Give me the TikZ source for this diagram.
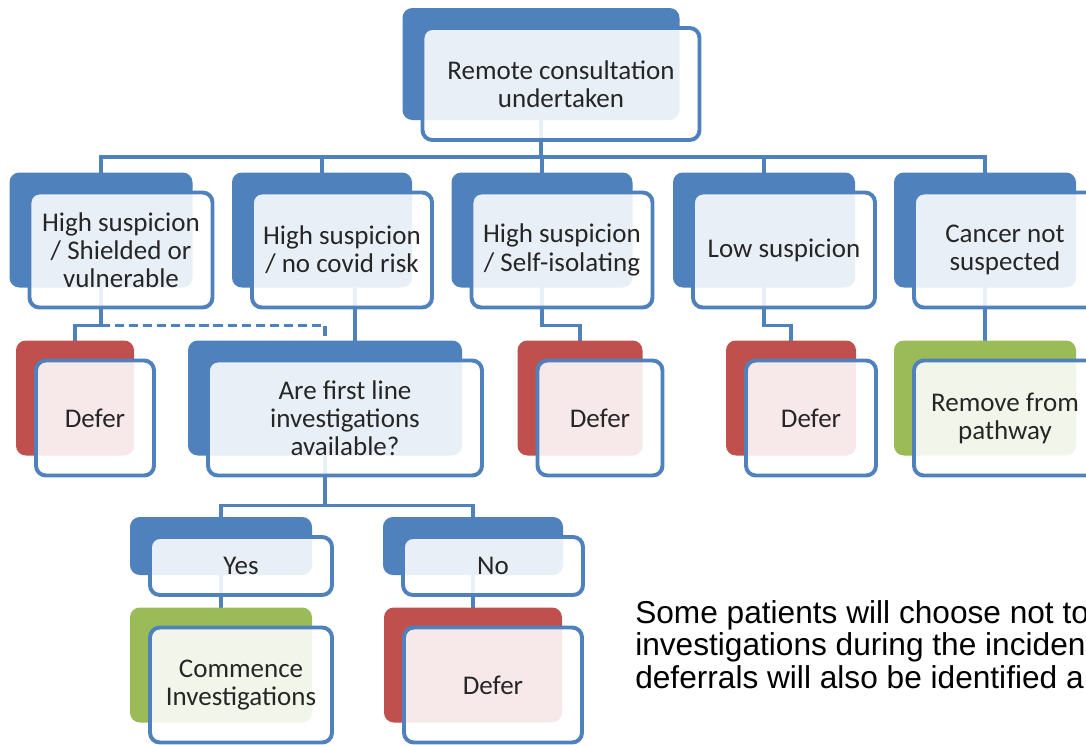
\documentclass[tikz,border=0pt]{standalone}
\usepackage{fontspec}
\usetikzlibrary{backgrounds}
\newfontfamily\boxfont{Carlito}
\newfontfamily\notefont{Liberation Sans}
\definecolor{ppblue}{RGB}{79,129,189}
\definecolor{ppred}{RGB}{192,80,77}
\definecolor{ppgreen}{RGB}{155,187,89}
\begin{document}
\begin{tikzpicture}[x=0.025cm, y=-0.025cm,
  card/.style={draw=ppblue,line width=2.8pt,rounded corners=7pt,fill=white,fill opacity=0.88,
    text opacity=1,text=black!85,align=center,inner sep=2pt,minimum height=115*0.025cm,
    font=\boxfont\fontsize{19.2}{20}\selectfont},
  back/.style={preaction={fill=#1,draw=none,fill opacity=1,transform canvas={shift={(-20,-20)}}}},
  wd/.style={minimum width=#1*0.025cm},
  link/.style={draw=ppblue,line width=2.2pt}]
\useasboundingbox (0,0) rectangle (1086,744);
% cards
\node[card,back=ppblue,wd=277,minimum height=112*0.025cm] (top) at (561,84) {Remote consultation\\undertaken};
\node[card,back=ppblue,wd=183] (hsv) at (121,250) {High suspicion\\/ Shielded or\\vulnerable};
\node[card,back=ppblue,wd=180] (hnc) at (342,250) {High suspicion\\/ no covid risk};
\node[card,back=ppblue,wd=181] (hsi) at (562,250) {High suspicion\\/ Self-isolating};
\node[card,back=ppblue,wd=182] (low) at (784,250) {Low suspicion};
\node[card,back=ppblue,wd=182] (cns) at (1005,250) {Cancer not\\suspected};
\node[card,back=ppred,wd=118] (d1) at (95,418) {Defer};
\node[card,back=ppblue,wd=274] (afl) at (345,418) {Are first line\\investigations\\available?};
\node[card,back=ppred,wd=125] (d2) at (600,418) {Defer};
\node[card,back=ppred,wd=130] (d3) at (811,418) {Defer};
\node[card,back=ppgreen,wd=182] (rfp) at (1005,418) {Remove from\\pathway};
\node[card,back=ppblue,wd=182,minimum height=58*0.025cm] (yes) at (241,566) {Yes};
\node[card,back=ppblue,wd=180,minimum height=58*0.025cm] (no) at (493,566) {No};
\node[card,back=ppgreen,wd=182] (ci) at (241,685) {Commence\\Investigations};
\node[card,back=ppred,wd=178] (d4) at (493,685) {Defer};
% note beside the lower branch
\node[anchor=north west,inner sep=0pt,align=left,font=\notefont\fontsize{22.5}{23.2}\selectfont] (note) at (635,600)
  {Some patients will choose not to\\investigations during the inciden\\deferrals will also be identified a};
% connectors run under the cards, between the back tabs
\begin{scope}[on background layer]
\draw[link] ([shift={(-20,0)}]top.center) -- ([shift={(-20,15)}]top.south) coordinate (spine);
\foreach \n in {hsv,hnc,hsi,low,cns} \draw[link] (spine) -| ([shift={(-20,0)}]\n.center);
\draw[link] ([shift={(-20,0)}]hsv.center) -- ([shift={(-20,16)}]hsv.south) coordinate (fork1) -| ([shift={(-20,0)}]d1.center);
\draw[link,dash pattern=on 6.5pt off 3.5pt] (fork1) -| ([shift={(-20,0)}]afl.center);
\path ([shift={(13,0)}]hnc.center) coordinate (drop);
\draw[link] (drop) -- (drop |- afl.north);
\draw[link] ([shift={(-20,0)}]hsi.center) -- ([shift={(-20,16)}]hsi.south) -| ([shift={(-20,0)}]d2.center);
\draw[link] ([shift={(-20,0)}]low.center) -- ([shift={(-20,16)}]low.south) -| ([shift={(-20,0)}]d3.center);
\draw[link] ([shift={(-20,0)}]cns.center) -- ([shift={(-20,0)}]rfp.center);
\draw[link] ([shift={(-20,0)}]afl.center) -- ([shift={(-20,28)}]afl.south) coordinate (fork4);
\foreach \n in {yes,no} \draw[link] (fork4) -| ([shift={(-20,0)}]\n.center);
\draw[link] ([shift={(-20,0)}]yes.center) -- ([shift={(-20,0)}]ci.center);
\draw[link] ([shift={(-20,0)}]no.center) -- ([shift={(-20,0)}]d4.center);
\end{scope}
\end{tikzpicture}
\end{document}
